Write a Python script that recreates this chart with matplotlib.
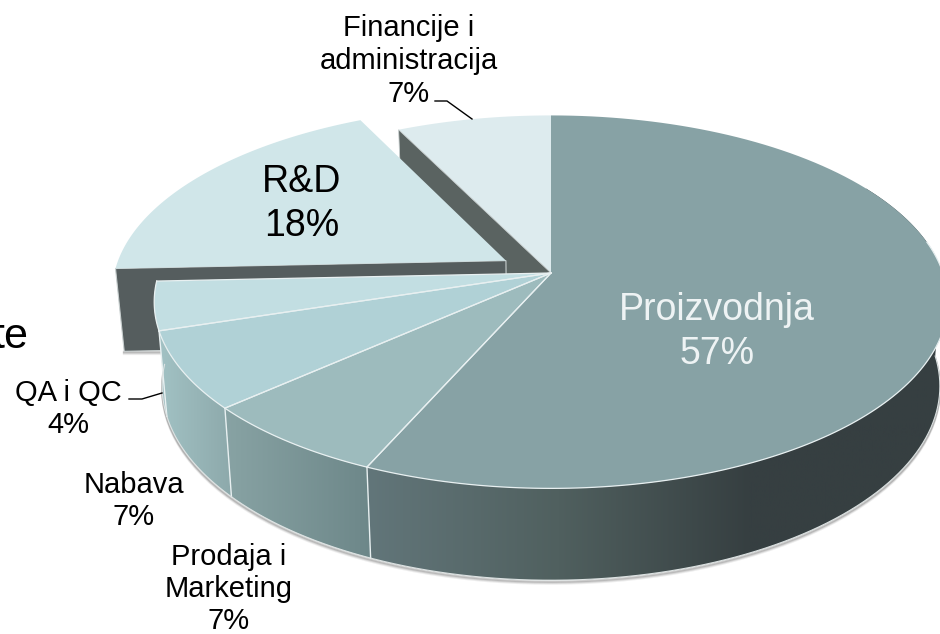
import numpy as np
import matplotlib
matplotlib.use('Agg')
import matplotlib.pyplot as plt
from matplotlib.colors import LinearSegmentedColormap
from matplotlib.patches import Polygon

# slices go clockwise from 12 o'clock
names = ['Proizvodnja', 'Prodaja i\nMarketing', 'Nabava', 'QA i QC', 'R&D', 'Financije i\nadministracija']
values = [56.6, 6.8, 6.7, 4.2, 18.4, 7.3]
explode = [0, 0, 0, 0, 0.135, 0]
top_colors = ['#87A2A5', '#9DBBBD', '#B0D1D6', '#C2DEE2', '#D0E6E9', '#DDEBEE']
wall_colors = [('#62767A', '#363F41'), ('#88A3A4', '#6D8789'), ('#A2C2C4', '#8DA9AB'),
               ('#A6C4C7', '#A0BFC2'), ('#555D5E', '#555D5E'), ('#5A6361', '#5A6361')]

# fake perspective of the pie, in pixels
CX, CY = 551, 273
R = 392
C = 182
K = 0.155
DEPTH = 83
BOTTOM_SCALE = 0.98

plt.rcParams['font.family'] = ['Liberation Sans', 'DejaVu Sans']
fig = plt.figure(figsize=(9.4, 6.34), dpi=100)
ax = fig.add_axes([0, 0, 1, 1])
ax.set_autoscale_on(False)
ax.set_xlim(0, 940)
ax.set_ylim(634, 0)
ax.axis('off')


def project(x, y, down=False):
    d = 1 + K * y
    px = R * x / d
    py = -C * y / d
    if down:
        return CX + px * BOTTOM_SCALE, CY + py + DEPTH / d ** 0.6
    return CX + px, CY + py


def arc(a0, a1, off=(0, 0), down=False):
    t = np.radians(np.linspace(a0, a1, 120))
    px, py = project(np.sin(t) + off[0], np.cos(t) + off[1], down)
    return np.column_stack([px, py])


def gradient_fill(pts, colors, z, right=None):
    poly = Polygon(pts, closed=True, fc='none', ec='none', zorder=z)
    ax.add_patch(poly)
    cmap = LinearSegmentedColormap.from_list('g', colors)
    x1 = pts[:, 0].max() if right is None else right
    im = ax.imshow(np.linspace(0, 1, 256)[None, :], cmap=cmap, aspect='auto', zorder=z,
                   extent=[pts[:, 0].min(), x1, pts[:, 1].max(), pts[:, 1].min()])
    im.set_clip_path(poly)


edges = np.cumsum([0] + values) * 3.6
mids = (edges[:-1] + edges[1:]) / 2
offs = [(e * np.sin(np.radians(m)), e * np.cos(np.radians(m))) for e, m in zip(explode, mids)]


def top_shape(i):
    apex = np.array(project(offs[i][0], offs[i][1]))
    return np.vstack([apex, arc(edges[i], edges[i + 1], offs[i])])


def radial_wall(i, angle):
    t = np.radians(angle)
    ox, oy = offs[i]
    return np.array([project(ox, oy), project(np.sin(t) + ox, np.cos(t) + oy),
                     project(np.sin(t) + ox, np.cos(t) + oy, True), project(ox, oy, True)])


def outer_wall(a0, a1):
    return np.vstack([arc(a0, a1), arc(a0, a1, down=True)[::-1]])


edge_col = '#E8F0F1'
rd_wall = radial_wall(4, edges[4])

# soft shadow below the walls
for shift, alpha in zip([3.5, 2.5, 1.5], [0.10, 0.16, 0.28]):
    sh = arc(0, edges[4], down=True)
    ax.plot(sh[:, 0], sh[:, 1] + shift, color='#555555', alpha=alpha, lw=1.6, zorder=1)
    ax.plot([rd_wall[2, 0], 165], [rd_wall[2, 1] + shift - 1] * 2, color='#555555', alpha=alpha, lw=1.6, zorder=1)

# back slices first, the exploded one lands on the cut wall of Financije
ax.add_patch(Polygon(top_shape(5), closed=True, fc=top_colors[5], ec='none', zorder=2))
ax.add_patch(Polygon(radial_wall(5, edges[5]), closed=True, fc=wall_colors[5][0], ec='#C8CFCF', lw=0.6, zorder=3))
ax.add_patch(Polygon(rd_wall, closed=True, fc=wall_colors[4][0], ec='#C8CFCF', lw=0.8, zorder=4))
ax.add_patch(Polygon(top_shape(4), closed=True, fc=top_colors[4], ec='none', zorder=5))

# front slices, walls then tops
gradient_fill(outer_wall(60, edges[1]), ['#363F41', '#363F41'], 6)
gradient_fill(outer_wall(90, edges[1]), [wall_colors[0][0], '#50605F', wall_colors[0][1], wall_colors[0][1]], 6, right=940)
for i in [1, 2, 3]:
    gradient_fill(outer_wall(edges[i], edges[i + 1]), wall_colors[i], 6)

for a in edges[1:4]:
    t = np.radians(a)
    px0, py0 = project(np.sin(t), np.cos(t))
    px1, py1 = project(np.sin(t), np.cos(t), True)
    ax.plot([px0, px1], [py0, py1], color=edge_col, lw=1, zorder=7)
low = arc(90, edges[4], down=True)
ax.plot(low[:, 0], low[:, 1], color='#DDE3E3', lw=0.8, zorder=7)

for i in [3, 2, 1, 0]:
    ax.add_patch(Polygon(top_shape(i), closed=True, fc=top_colors[i], ec='none', zorder=8))
    rim = arc(max(edges[i], 80), edges[i + 1])
    ax.plot(rim[:, 0], rim[:, 1], color=edge_col, lw=0.9, zorder=9)
    for a in [edges[i], edges[i + 1]]:
        if a > 0:
            t = np.radians(a)
            px, py = project(np.sin(t), np.cos(t))
            ax.plot([CX, px], [CY, py], color=edge_col, lw=0.9, zorder=9)

# labels
pct = [f'{round(v)}%' for v in values]
label_xy = [(717, 332), (229, 589), (134, 501), (68, 409), (302, 204), (409, 61)]
label_size = [27, 21, 21, 21, 27, 21]
label_space = [1.27, 1.19, 1.22, 1.22, 1.3, 1.22]
label_color = ['#EEF3F4', 'black', 'black', 'black', 'black', 'black']
for name, p, xy, s, sp, col in zip(names, pct, label_xy, label_size, label_space, label_color):
    ax.text(xy[0], xy[1], name + '\n' + p, ha='center', va='center', ma='center',
            fontsize=s, color=col, linespacing=sp, zorder=12)

# leader lines
ax.plot([129, 142, 162], [399, 399, 393], color='black', lw=1, zorder=12)
ax.plot([435, 447, 472], [101, 101, 119], color='black', lw=1, zorder=12)

# leftover of a title cut off by the slide crop
ax.text(28, 348, 'te', ha='right', va='baseline', fontsize=31, color='black', zorder=0)

fig.savefig('out.png', dpi=100)
